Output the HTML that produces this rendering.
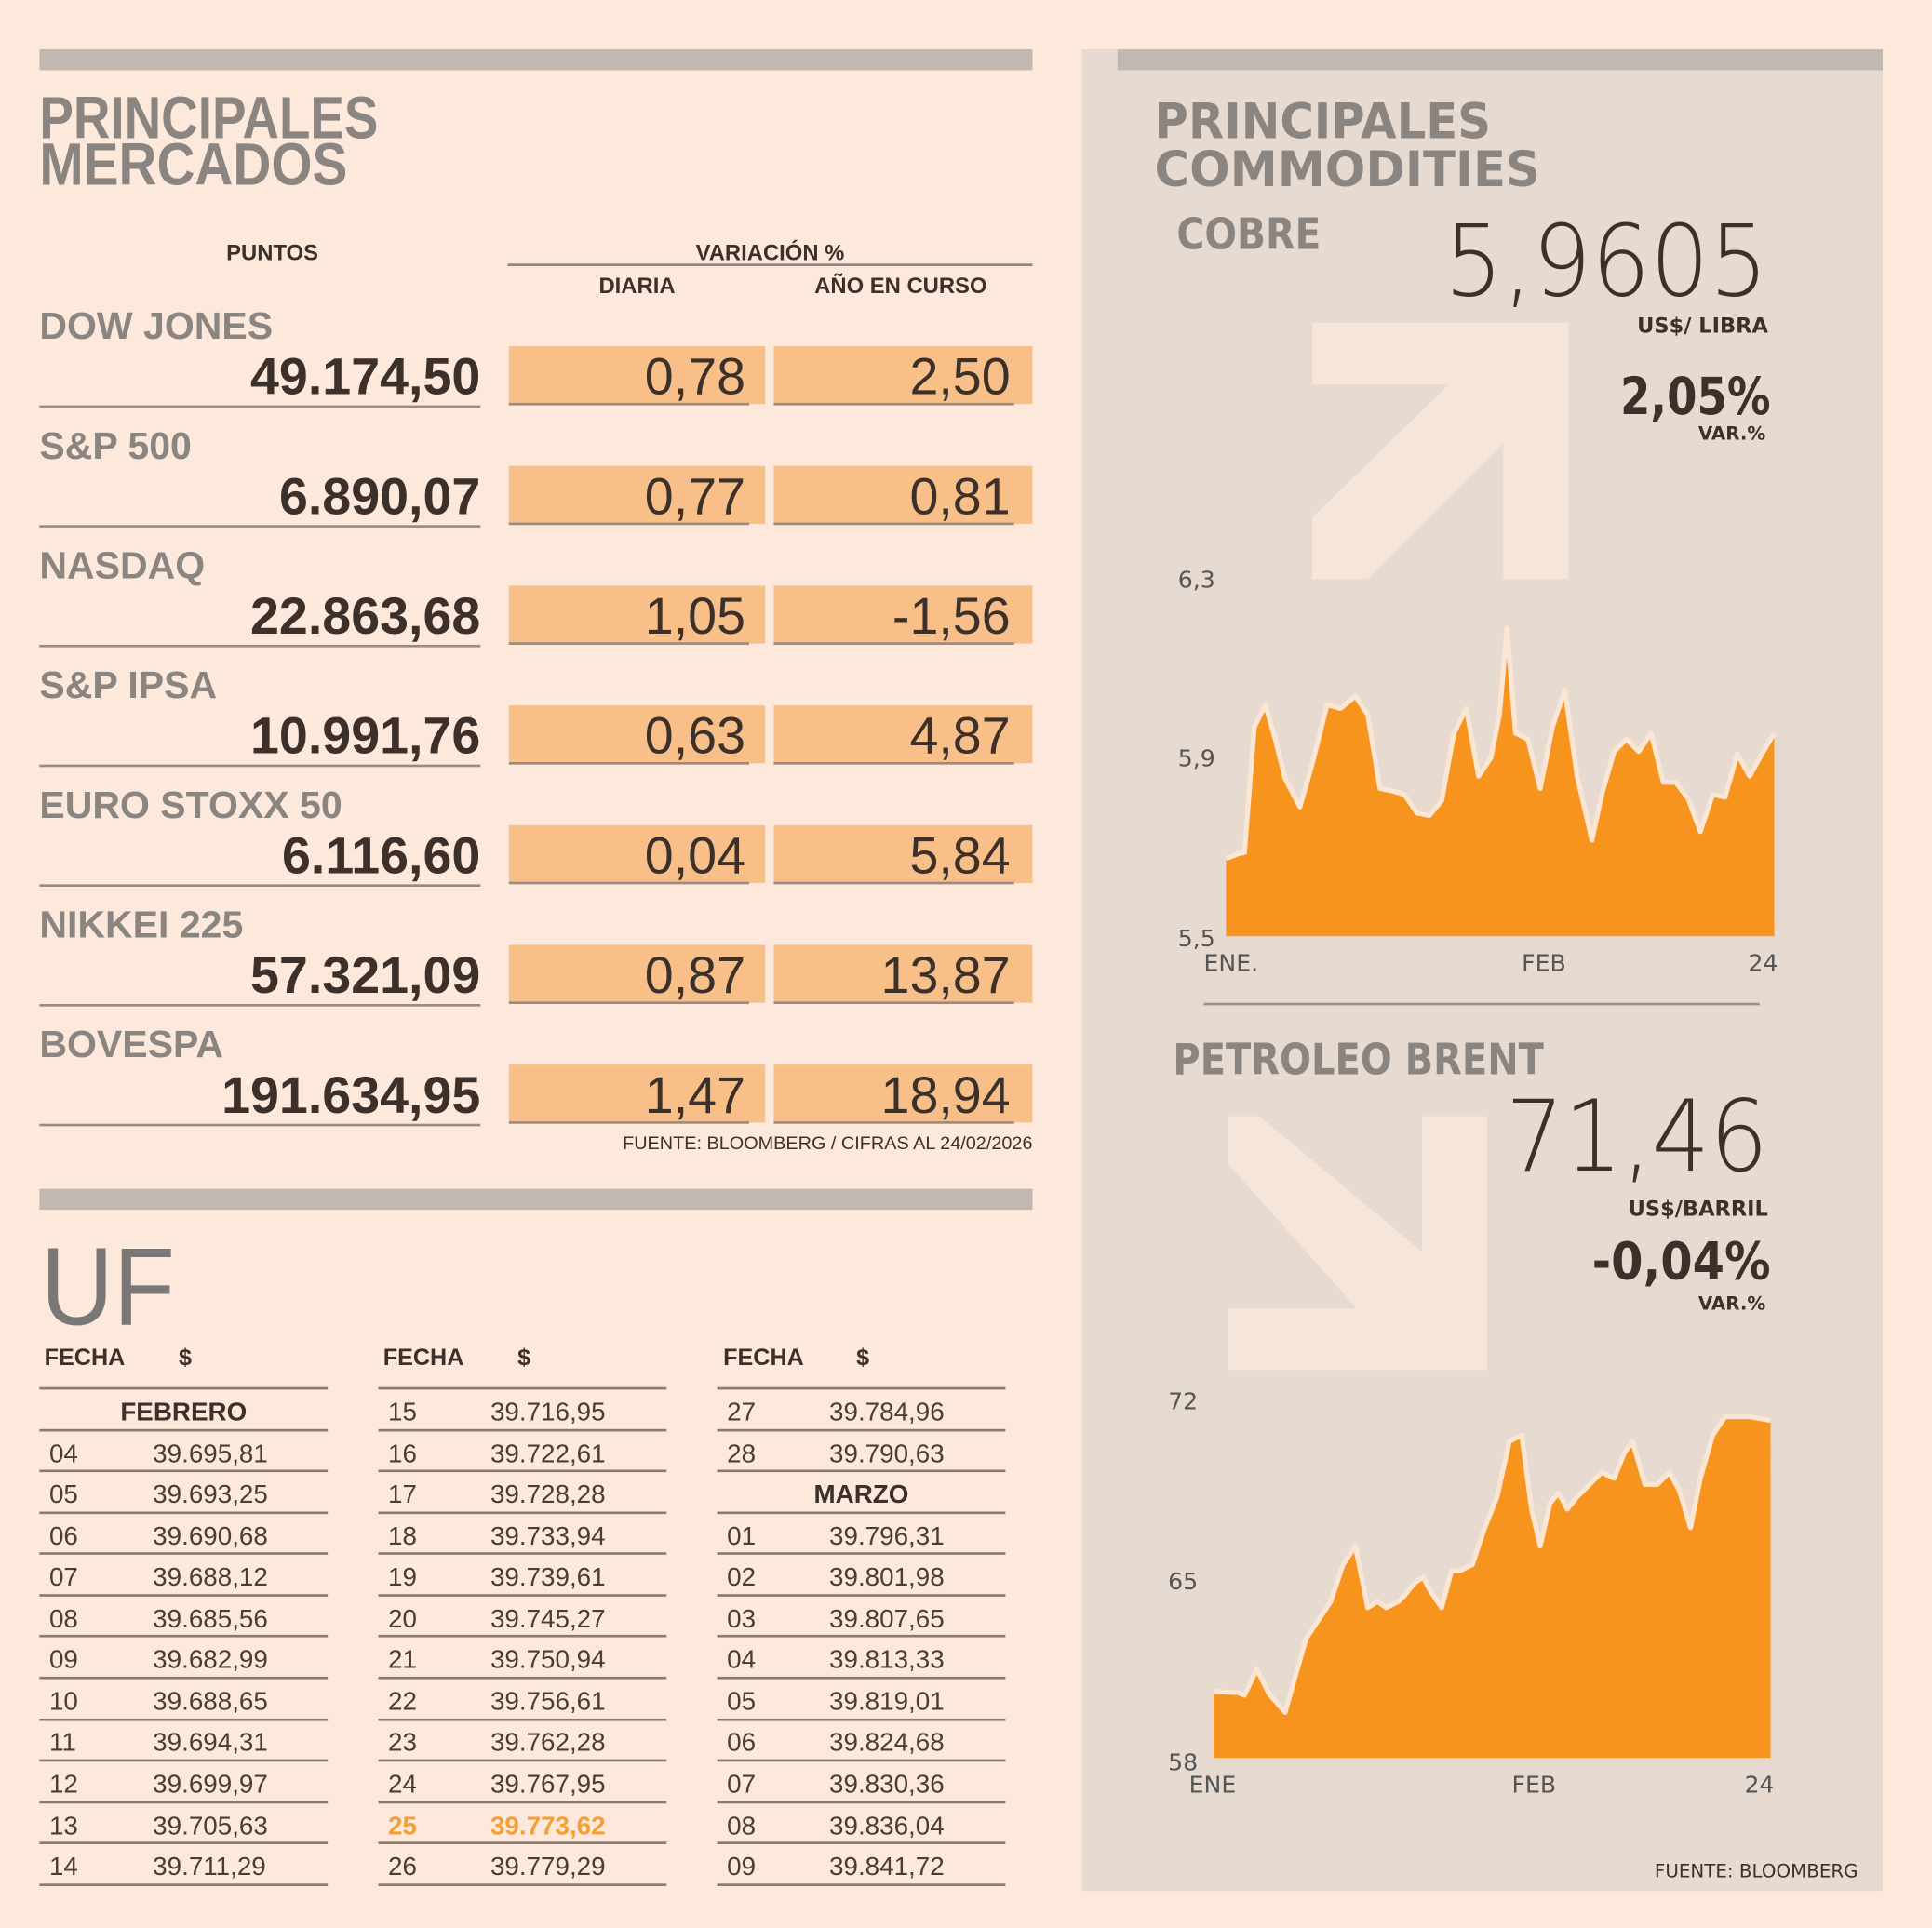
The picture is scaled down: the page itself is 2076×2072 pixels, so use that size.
<!DOCTYPE html>
<html><head><meta charset="utf-8"><style>
html,body{margin:0;padding:0;background:#fde9dc;}
svg{display:block}
.n{font-family:"Liberation Sans Narrow","Liberation Sans",sans-serif}
.d{font-family:"DejaVu Sans","Liberation Sans",sans-serif}
</style></head><body>
<svg width="2076" height="2072" viewBox="0 0 1568 1565" preserveAspectRatio="none" xmlns="http://www.w3.org/2000/svg">
<rect x="0" y="0" width="1568" height="1565" fill="#fde9dc"/>
<!-- right panel -->
<rect x="878" y="40" width="650" height="1495" fill="#e6dad1"/>
<rect x="32" y="40" width="806" height="17" fill="#c2b8b2"/>
<rect x="907" y="40" width="621" height="17" fill="#c2b8b2"/>
<rect x="32" y="965" width="806" height="17" fill="#c2b8b2"/>

<!-- Left title -->
<g class="n" font-weight="bold" fill="#8a8581" font-size="48">
<text x="32" y="112" textLength="275" lengthAdjust="spacingAndGlyphs">PRINCIPALES</text>
<text x="32" y="150" textLength="250" lengthAdjust="spacingAndGlyphs">MERCADOS</text>
</g>
<g class="n" font-weight="bold" fill="#3b302a" font-size="18" text-anchor="middle">
<text x="221" y="211">PUNTOS</text>
<text x="625" y="211">VARIACIÓN %</text>
<text x="517" y="238">DIARIA</text>
<text x="731" y="238">AÑO EN CURSO</text>
</g>
<rect x="412" y="214" width="426" height="2" fill="#8a8581"/>

<!-- rows -->
<g id="rows">
<g transform="translate(0,0)">
<text class="n" x="32" y="275" font-size="31" font-weight="bold" fill="#8a8581">DOW JONES</text>
<rect x="413" y="281" width="208" height="47" fill="#f8bf88"/><rect x="628" y="281" width="210" height="47" fill="#f8bf88"/>
<rect x="413" y="327" width="195" height="2" fill="#9a8a80"/><rect x="628" y="327" width="195" height="2" fill="#9a8a80"/>
<rect x="32" y="329" width="358" height="2" fill="#9a8a80"/>
<text class="n" x="390" y="320" font-size="42" font-weight="bold" fill="#3b302a" text-anchor="end">49.174,50</text>
<text class="n" x="605" y="320" font-size="42" fill="#3b302a" text-anchor="end">0,78</text>
<text class="n" x="820" y="320" font-size="42" fill="#3b302a" text-anchor="end">2,50</text>
</g>
<g transform="translate(0,97.2)">
<text class="n" x="32" y="275" font-size="31" font-weight="bold" fill="#8a8581">S&amp;P 500</text>
<rect x="413" y="281" width="208" height="47" fill="#f8bf88"/><rect x="628" y="281" width="210" height="47" fill="#f8bf88"/>
<rect x="413" y="327" width="195" height="2" fill="#9a8a80"/><rect x="628" y="327" width="195" height="2" fill="#9a8a80"/>
<rect x="32" y="329" width="358" height="2" fill="#9a8a80"/>
<text class="n" x="390" y="320" font-size="42" font-weight="bold" fill="#3b302a" text-anchor="end">6.890,07</text>
<text class="n" x="605" y="320" font-size="42" fill="#3b302a" text-anchor="end">0,77</text>
<text class="n" x="820" y="320" font-size="42" fill="#3b302a" text-anchor="end">0,81</text>
</g>
<g transform="translate(0,194.4)">
<text class="n" x="32" y="275" font-size="31" font-weight="bold" fill="#8a8581">NASDAQ</text>
<rect x="413" y="281" width="208" height="47" fill="#f8bf88"/><rect x="628" y="281" width="210" height="47" fill="#f8bf88"/>
<rect x="413" y="327" width="195" height="2" fill="#9a8a80"/><rect x="628" y="327" width="195" height="2" fill="#9a8a80"/>
<rect x="32" y="329" width="358" height="2" fill="#9a8a80"/>
<text class="n" x="390" y="320" font-size="42" font-weight="bold" fill="#3b302a" text-anchor="end">22.863,68</text>
<text class="n" x="605" y="320" font-size="42" fill="#3b302a" text-anchor="end">1,05</text>
<text class="n" x="820" y="320" font-size="42" fill="#3b302a" text-anchor="end">-1,56</text>
</g>
<g transform="translate(0,291.6)">
<text class="n" x="32" y="275" font-size="31" font-weight="bold" fill="#8a8581">S&amp;P IPSA</text>
<rect x="413" y="281" width="208" height="47" fill="#f8bf88"/><rect x="628" y="281" width="210" height="47" fill="#f8bf88"/>
<rect x="413" y="327" width="195" height="2" fill="#9a8a80"/><rect x="628" y="327" width="195" height="2" fill="#9a8a80"/>
<rect x="32" y="329" width="358" height="2" fill="#9a8a80"/>
<text class="n" x="390" y="320" font-size="42" font-weight="bold" fill="#3b302a" text-anchor="end">10.991,76</text>
<text class="n" x="605" y="320" font-size="42" fill="#3b302a" text-anchor="end">0,63</text>
<text class="n" x="820" y="320" font-size="42" fill="#3b302a" text-anchor="end">4,87</text>
</g>
<g transform="translate(0,388.8)">
<text class="n" x="32" y="275" font-size="31" font-weight="bold" fill="#8a8581">EURO STOXX 50</text>
<rect x="413" y="281" width="208" height="47" fill="#f8bf88"/><rect x="628" y="281" width="210" height="47" fill="#f8bf88"/>
<rect x="413" y="327" width="195" height="2" fill="#9a8a80"/><rect x="628" y="327" width="195" height="2" fill="#9a8a80"/>
<rect x="32" y="329" width="358" height="2" fill="#9a8a80"/>
<text class="n" x="390" y="320" font-size="42" font-weight="bold" fill="#3b302a" text-anchor="end">6.116,60</text>
<text class="n" x="605" y="320" font-size="42" fill="#3b302a" text-anchor="end">0,04</text>
<text class="n" x="820" y="320" font-size="42" fill="#3b302a" text-anchor="end">5,84</text>
</g>
<g transform="translate(0,486)">
<text class="n" x="32" y="275" font-size="31" font-weight="bold" fill="#8a8581">NIKKEI 225</text>
<rect x="413" y="281" width="208" height="47" fill="#f8bf88"/><rect x="628" y="281" width="210" height="47" fill="#f8bf88"/>
<rect x="413" y="327" width="195" height="2" fill="#9a8a80"/><rect x="628" y="327" width="195" height="2" fill="#9a8a80"/>
<rect x="32" y="329" width="358" height="2" fill="#9a8a80"/>
<text class="n" x="390" y="320" font-size="42" font-weight="bold" fill="#3b302a" text-anchor="end">57.321,09</text>
<text class="n" x="605" y="320" font-size="42" fill="#3b302a" text-anchor="end">0,87</text>
<text class="n" x="820" y="320" font-size="42" fill="#3b302a" text-anchor="end">13,87</text>
</g>
<g transform="translate(0,583.2)">
<text class="n" x="32" y="275" font-size="31" font-weight="bold" fill="#8a8581">BOVESPA</text>
<rect x="413" y="281" width="208" height="47" fill="#f8bf88"/><rect x="628" y="281" width="210" height="47" fill="#f8bf88"/>
<rect x="413" y="327" width="195" height="2" fill="#9a8a80"/><rect x="628" y="327" width="195" height="2" fill="#9a8a80"/>
<rect x="32" y="329" width="358" height="2" fill="#9a8a80"/>
<text class="n" x="390" y="320" font-size="42" font-weight="bold" fill="#3b302a" text-anchor="end">191.634,95</text>
<text class="n" x="605" y="320" font-size="42" fill="#3b302a" text-anchor="end">1,47</text>
<text class="n" x="820" y="320" font-size="42" fill="#3b302a" text-anchor="end">18,94</text>
</g>
</g>
<text class="n" x="838" y="933" font-size="15" fill="#3b302a" text-anchor="end">FUENTE: BLOOMBERG  / CIFRAS AL 24/02/2026</text>

<!-- UF -->
<text x="33" y="1075" font-family="Liberation Sans,sans-serif" font-size="90" fill="#7a7877" textLength="109" lengthAdjust="spacingAndGlyphs">UF</text>
<g class="n" font-size="19" font-weight="bold" fill="#3b302a">
<text x="36" y="1108">FECHA</text><text x="145" y="1108">$</text>
<text x="311" y="1108">FECHA</text><text x="420" y="1108">$</text>
<text x="587" y="1108">FECHA</text><text x="695" y="1108">$</text>
</g>
<g fill="#8a7a70">
<rect x="32" y="1126" width="234" height="2"/><rect x="307" y="1126" width="234" height="2"/><rect x="582" y="1126" width="234" height="2"/>
</g>
<g id="uflines" fill="#8a7a70">
<rect x="32" y="1160" width="234" height="2"/><rect x="307" y="1160" width="234" height="2"/><rect x="582" y="1160" width="234" height="2"/>
<rect x="32" y="1193" width="234" height="2"/><rect x="307" y="1193" width="234" height="2"/><rect x="582" y="1193" width="234" height="2"/>
<rect x="32" y="1227" width="234" height="2"/><rect x="307" y="1227" width="234" height="2"/><rect x="582" y="1227" width="234" height="2"/>
<rect x="32" y="1260" width="234" height="2"/><rect x="307" y="1260" width="234" height="2"/><rect x="582" y="1260" width="234" height="2"/>
<rect x="32" y="1294" width="234" height="2"/><rect x="307" y="1294" width="234" height="2"/><rect x="582" y="1294" width="234" height="2"/>
<rect x="32" y="1327" width="234" height="2"/><rect x="307" y="1327" width="234" height="2"/><rect x="582" y="1327" width="234" height="2"/>
<rect x="32" y="1361" width="234" height="2"/><rect x="307" y="1361" width="234" height="2"/><rect x="582" y="1361" width="234" height="2"/>
<rect x="32" y="1395" width="234" height="2"/><rect x="307" y="1395" width="234" height="2"/><rect x="582" y="1395" width="234" height="2"/>
<rect x="32" y="1428" width="234" height="2"/><rect x="307" y="1428" width="234" height="2"/><rect x="582" y="1428" width="234" height="2"/>
<rect x="32" y="1462" width="234" height="2"/><rect x="307" y="1462" width="234" height="2"/><rect x="582" y="1462" width="234" height="2"/>
<rect x="32" y="1495" width="234" height="2"/><rect x="307" y="1495" width="234" height="2"/><rect x="582" y="1495" width="234" height="2"/>
<rect x="32" y="1529" width="234" height="2"/><rect x="307" y="1529" width="234" height="2"/><rect x="582" y="1529" width="234" height="2"/>
</g>
<g class="n" font-size="21" fill="#4a3d35">
<text x="149" y="1153" font-weight="bold" text-anchor="middle" fill="#3b302a">FEBRERO</text>
<text x="40" y="1187">04</text><text x="124" y="1187">39.695,81</text>
<text x="40" y="1220">05</text><text x="124" y="1220">39.693,25</text>
<text x="40" y="1254">06</text><text x="124" y="1254">39.690,68</text>
<text x="40" y="1287">07</text><text x="124" y="1287">39.688,12</text>
<text x="40" y="1321">08</text><text x="124" y="1321">39.685,56</text>
<text x="40" y="1354">09</text><text x="124" y="1354">39.682,99</text>
<text x="40" y="1388">10</text><text x="124" y="1388">39.688,65</text>
<text x="40" y="1421">11</text><text x="124" y="1421">39.694,31</text>
<text x="40" y="1455">12</text><text x="124" y="1455">39.699,97</text>
<text x="40" y="1489">13</text><text x="124" y="1489">39.705,63</text>
<text x="40" y="1522">14</text><text x="124" y="1522">39.711,29</text>

<text x="315" y="1153">15</text><text x="398" y="1153">39.716,95</text>
<text x="315" y="1187">16</text><text x="398" y="1187">39.722,61</text>
<text x="315" y="1220">17</text><text x="398" y="1220">39.728,28</text>
<text x="315" y="1254">18</text><text x="398" y="1254">39.733,94</text>
<text x="315" y="1287">19</text><text x="398" y="1287">39.739,61</text>
<text x="315" y="1321">20</text><text x="398" y="1321">39.745,27</text>
<text x="315" y="1354">21</text><text x="398" y="1354">39.750,94</text>
<text x="315" y="1388">22</text><text x="398" y="1388">39.756,61</text>
<text x="315" y="1421">23</text><text x="398" y="1421">39.762,28</text>
<text x="315" y="1455">24</text><text x="398" y="1455">39.767,95</text>
<text x="315" y="1489" fill="#f3a03a" font-weight="bold">25</text><text x="398" y="1489" fill="#f3a03a" font-weight="bold">39.773,62</text>
<text x="315" y="1522">26</text><text x="398" y="1522">39.779,29</text>

<text x="590" y="1153">27</text><text x="673" y="1153">39.784,96</text>
<text x="590" y="1187">28</text><text x="673" y="1187">39.790,63</text>
<text x="699" y="1220" font-weight="bold" text-anchor="middle" fill="#3b302a">MARZO</text>
<text x="590" y="1254">01</text><text x="673" y="1254">39.796,31</text>
<text x="590" y="1287">02</text><text x="673" y="1287">39.801,98</text>
<text x="590" y="1321">03</text><text x="673" y="1321">39.807,65</text>
<text x="590" y="1354">04</text><text x="673" y="1354">39.813,33</text>
<text x="590" y="1388">05</text><text x="673" y="1388">39.819,01</text>
<text x="590" y="1421">06</text><text x="673" y="1421">39.824,68</text>
<text x="590" y="1455">07</text><text x="673" y="1455">39.830,36</text>
<text x="590" y="1489">08</text><text x="673" y="1489">39.836,04</text>
<text x="590" y="1522">09</text><text x="673" y="1522">39.841,72</text>
</g>

<!-- Commodities -->
<g class="d" font-weight="bold" fill="#8a8581" font-size="40">
<text x="937" y="112" textLength="273" lengthAdjust="spacingAndGlyphs">PRINCIPALES</text>
<text x="937" y="151" textLength="313" lengthAdjust="spacingAndGlyphs">COMMODITIES</text>
</g>
<text class="d" x="955" y="202" font-size="35" font-weight="bold" fill="#8a8581" textLength="117" lengthAdjust="spacingAndGlyphs">COBRE</text>
<polygon fill="#f6e6da" points="1065,262 1273,262 1273,470 1220,470 1220,360 1110,470 1065,470 1065,420 1176,312 1065,312"/>
<text class="d" x="1435" y="240" font-size="80" font-weight="300" fill="#3b302a" text-anchor="end" textLength="263" lengthAdjust="spacingAndGlyphs">5,9605</text>
<text class="d" x="1435" y="270" font-size="17" font-weight="bold" fill="#3b302a" text-anchor="end">US$/ LIBRA</text>
<text class="d" x="1437" y="336" font-size="42" font-weight="bold" fill="#3b302a" text-anchor="end" textLength="122" lengthAdjust="spacingAndGlyphs">2,05%</text>
<text class="d" x="1433" y="357" font-size="15" font-weight="bold" fill="#3b302a" text-anchor="end">VAR.%</text>

<g class="d" font-size="19" fill="#555">
<text x="956" y="477">6,3</text><text x="956" y="622">5,9</text><text x="956" y="768">5,5</text>
<text x="977" y="788">ENE.</text><text x="1253" y="788" text-anchor="middle">FEB</text><text x="1443" y="788" text-anchor="end">24</text>
</g>
<polygon fill="#f7941e" points="995,760 995,697 1005,693 1010,692 1018,590 1027,572 1035,600 1043,632 1055,655 1065,620 1077,572 1088,575 1100,565 1110,580 1120,640 1130,642 1140,645 1150,660 1160,662 1170,650 1180,595 1190,575 1200,630 1210,615 1217,580 1223,510 1230,595 1240,600 1250,640 1260,590 1270,560 1280,630 1292,682 1300,645 1310,610 1320,600 1330,610 1340,595 1350,635 1360,635 1370,648 1380,675 1390,645 1400,647 1410,612 1420,630 1430,612 1440,595 1440,760"/>
<polyline fill="none" stroke="#fbe5d3" stroke-width="4" stroke-linejoin="round" points="995,697 1005,693 1010,692 1018,590 1027,572 1035,600 1043,632 1055,655 1065,620 1077,572 1088,575 1100,565 1110,580 1120,640 1130,642 1140,645 1150,660 1160,662 1170,650 1180,595 1190,575 1200,630 1210,615 1217,580 1223,510 1230,595 1240,600 1250,640 1260,590 1270,560 1280,630 1292,682 1300,645 1310,610 1320,600 1330,610 1340,595 1350,635 1360,635 1370,648 1380,675 1390,645 1400,647 1410,612 1420,630 1430,612 1440,595"/>
<rect x="977" y="814" width="451" height="2" fill="#9a8e86"/>

<text class="d" x="952" y="872" font-size="35" font-weight="bold" fill="#8a8581" textLength="301" lengthAdjust="spacingAndGlyphs">PETROLEO BRENT</text>
<polygon fill="#f6e6da" points="997,906 1022,906 1154,1016 1154,906 1207,906 1207,1112 997,1112 997,1062 1101,1062 997,945"/>
<text class="d" x="1435" y="950" font-size="80" font-weight="300" fill="#3b302a" text-anchor="end" textLength="213" lengthAdjust="spacingAndGlyphs">71,46</text>
<text class="d" x="1435" y="987" font-size="17" font-weight="bold" fill="#3b302a" text-anchor="end">US$/BARRIL</text>
<text class="d" x="1437" y="1038" font-size="42" font-weight="bold" fill="#3b302a" text-anchor="end" textLength="145" lengthAdjust="spacingAndGlyphs">-0,04%</text>
<text class="d" x="1433" y="1063" font-size="15" font-weight="bold" fill="#3b302a" text-anchor="end">VAR.%</text>

<g class="d" font-size="19" fill="#555">
<text x="948" y="1144">72</text><text x="948" y="1290">65</text><text x="948" y="1437">58</text>
<text x="965" y="1455">ENE</text><text x="1245" y="1455" text-anchor="middle">FEB</text><text x="1440" y="1455" text-anchor="end">24</text>
</g>
<polygon fill="#f7941e" points="985,1427 985,1373 1005,1374 1010,1376 1020,1355 1030,1375 1043,1390 1050,1365 1060,1330 1070,1315 1080,1300 1090,1270 1100,1255 1110,1305 1118,1300 1125,1305 1135,1300 1140,1295 1148,1285 1155,1280 1160,1290 1170,1305 1178,1275 1185,1275 1195,1270 1205,1240 1215,1215 1225,1170 1235,1165 1243,1225 1250,1255 1258,1220 1265,1212 1272,1225 1280,1215 1290,1205 1300,1195 1310,1200 1318,1180 1325,1170 1335,1205 1345,1205 1355,1195 1363,1210 1372,1240 1380,1200 1390,1165 1400,1150 1410,1150 1420,1150 1437,1153 1437,1427"/>
<polyline fill="none" stroke="#fbe5d3" stroke-width="4" stroke-linejoin="round" points="985,1373 1005,1374 1010,1376 1020,1355 1030,1375 1043,1390 1050,1365 1060,1330 1070,1315 1080,1300 1090,1270 1100,1255 1110,1305 1118,1300 1125,1305 1135,1300 1140,1295 1148,1285 1155,1280 1160,1290 1170,1305 1178,1275 1185,1275 1195,1270 1205,1240 1215,1215 1225,1170 1235,1165 1243,1225 1250,1255 1258,1220 1265,1212 1272,1225 1280,1215 1290,1205 1300,1195 1310,1200 1318,1180 1325,1170 1335,1205 1345,1205 1355,1195 1363,1210 1372,1240 1380,1200 1390,1165 1400,1150 1410,1150 1420,1150 1437,1153"/>
<text class="d" x="1508" y="1524" font-size="15" fill="#3b302a" text-anchor="end">FUENTE: BLOOMBERG</text>
</svg>
</body></html>
